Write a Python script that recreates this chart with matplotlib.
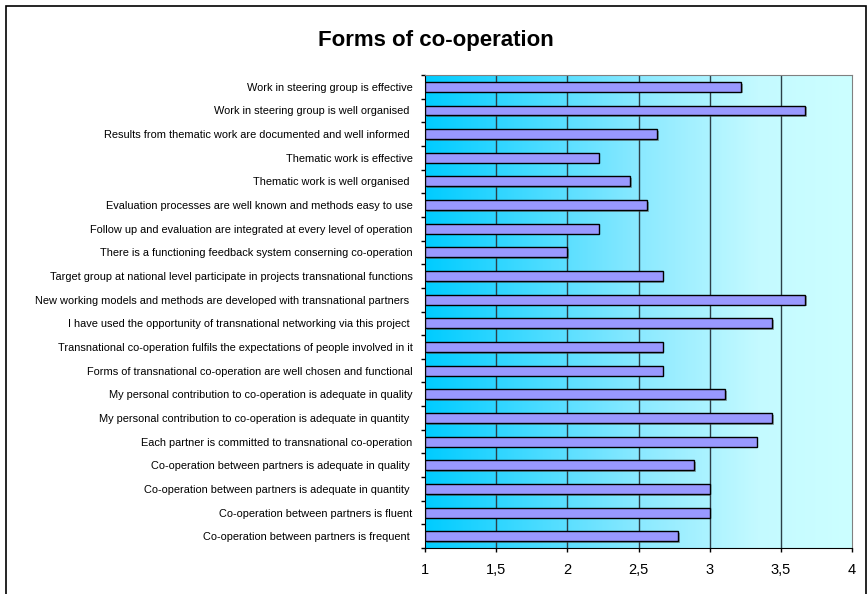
import numpy as np
import matplotlib.pyplot as plt
import matplotlib.patheffects as pe
from matplotlib.colors import LinearSegmentedColormap
from matplotlib.patches import Rectangle

plt.rcParams['font.family'] = ['Liberation Sans', 'DejaVu Sans']

# statements, listed top to bottom
statements = [
    'Work in steering group is effective',
    'Work in steering group is well organised ',
    'Results from thematic work are documented and well informed ',
    'Thematic work is effective',
    'Thematic work is well organised ',
    'Evaluation processes are well known and methods easy to use',
    'Follow up and evaluation are integrated at every level of operation',
    'There is a functioning feedback system conserning co-operation',
    'Target group at national level participate in projects transnational functions',
    'New working models and methods are developed with transnational partners ',
    'I have used the opportunity of transnational networking via this project ',
    'Transnational co-operation fulfils the expectations of people involved in it',
    'Forms of transnational co-operation are well chosen and functional',
    'My personal contribution to co-operation is adequate in quality',
    'My personal contribution to co-operation is adequate in quantity ',
    'Each partner is committed to transnational co-operation',
    'Co-operation between partners is adequate in quality ',
    'Co-operation between partners is adequate in quantity ',
    'Co-operation between partners is fluent',
    'Co-operation between partners is frequent ',
]
scores = [3.22, 3.67, 2.63, 2.22, 2.44, 2.56, 2.22, 2.00, 2.67, 3.67,
          3.44, 2.67, 2.67, 3.11, 3.44, 3.33, 2.89, 3.00, 3.00, 2.78]
xticks = [1, 1.5, 2, 2.5, 3, 3.5, 4]
xtick_labels = ['1', '1,5', '2', '2,5', '3', '3,5', '4']

fig = plt.figure(figsize=(8.68, 5.94), dpi=100)
ax = fig.add_axes([0.4896, 0.0774, 0.4920, 0.7963])

n = len(statements)
y = np.arange(n)[::-1]

# cyan to pale cyan background
grad = LinearSegmentedColormap.from_list('bg', [(0.0, '#00CCFF'), (0.5, '#8AE9FF'),
                                                (0.78, '#C4FAFF'), (1.0, '#CCFFFF')])
xs = np.linspace(0, 1, 300)[None, :]
ax.imshow(xs, cmap=grad, aspect='auto', extent=(1, 4, -0.5, n - 0.5), zorder=0)

for gx in xticks[1:-1]:
    ax.axvline(gx, color='#2b3f48', linewidth=1.0, zorder=1)

bars = ax.barh(y, np.array(scores) - 1, left=1, height=0.42, color='#9999FF',
               edgecolor='black', linewidth=1.0, zorder=3)
for b in bars:
    b.set_path_effects([pe.SimplePatchShadow(offset=(1.2, -1.2), shadow_rgbFace='#555555', alpha=0.5),
                        pe.Normal()])

ax.set_xlim(1, 4)
ax.set_ylim(-0.5, n - 0.5)
ax.set_xticks(xticks)
ax.set_xticklabels(xtick_labels, fontsize=10.5)
ax.tick_params(axis='x', direction='out', length=3, width=1, pad=8)

ax.set_yticks(y)
ax.set_yticklabels(statements, fontsize=7.9)
ax.tick_params(axis='y', which='major', length=0, pad=9)
ax.set_yticks(np.arange(n + 1) - 0.5, minor=True)
ax.tick_params(axis='y', which='minor', direction='out', length=3, width=1)

for side in ['top', 'right']:
    ax.spines[side].set_color('#808080')
for side in ['left', 'bottom']:
    ax.spines[side].set_color('black')

fig.text(0.502, 0.931, 'Forms of co-operation', ha='center', va='center',
         fontsize=16, fontweight='bold')

# outer frame
fig.patches.append(Rectangle((6 / 868, -0.05), 860 / 868, 1.05 - 6 / 594,
                             transform=fig.transFigure, fill=False,
                             edgecolor='black', linewidth=1.2))

fig.savefig('out.png', dpi=100)
